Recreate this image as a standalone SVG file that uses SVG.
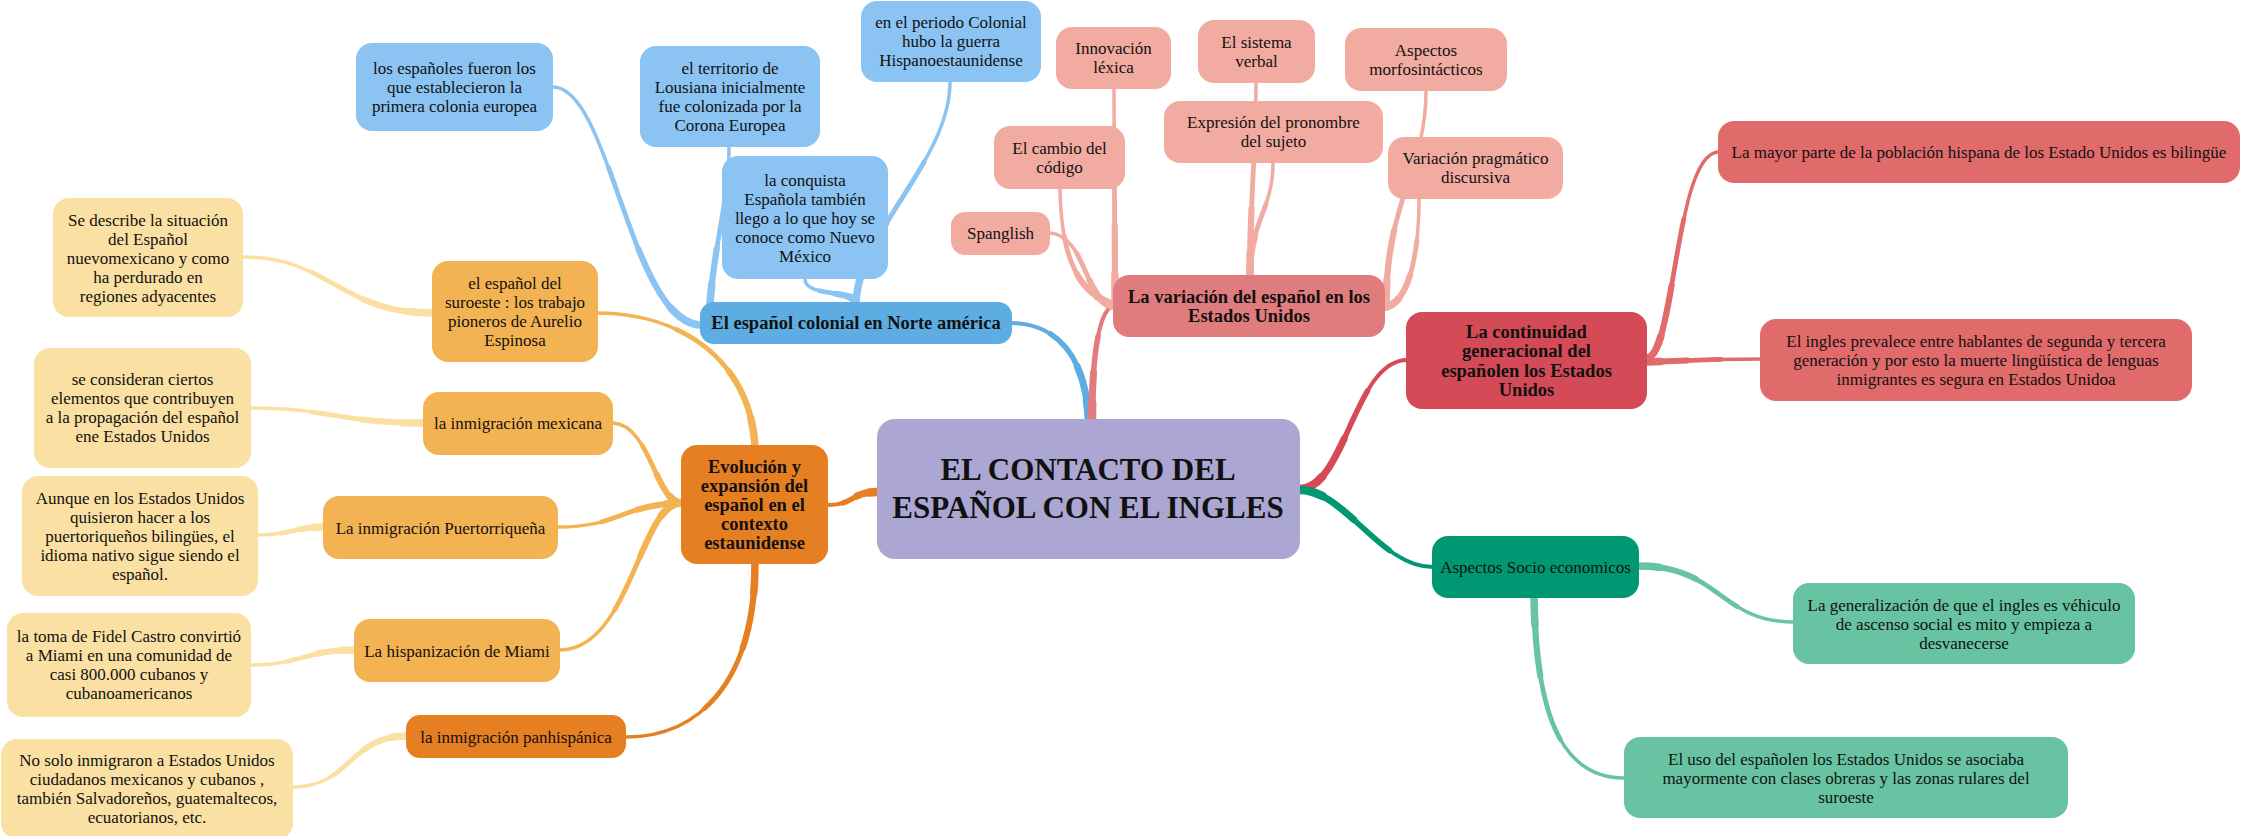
<svg xmlns="http://www.w3.org/2000/svg" xmlns:xlink="http://www.w3.org/1999/xlink" width="2242" height="836" viewBox="0 0 2242 836">
<style>
text{font-family:"Liberation Serif","Times New Roman",serif;font-size:17px;fill:#111;text-anchor:middle}
.b{font-weight:bold;font-size:18.5px}
.t{font-weight:bold;font-size:31px}
#connectors path{fill:none;stroke-linecap:round}
#connectors use{fill:none;stroke-linecap:round}
.m0{stroke-width:4}
.m1{stroke-width:5.5;stroke-dasharray:70 200}
.m2{stroke-width:7;stroke-dasharray:40 200}
.m3{stroke-width:8.5;stroke-dasharray:15 200}
.k0{stroke-width:3.5}
.k1{stroke-width:4.8;stroke-dasharray:65 200}
.k2{stroke-width:6.2;stroke-dasharray:35 200}
.k3{stroke-width:7.5;stroke-dasharray:12 200}
</style>
<defs>
<path id="c1" pathLength="100" d="M1089,422 C1086,360 1060,323 1010,323"/>
<path id="c2" pathLength="100" d="M1092,422 C1092,360 1098,310 1114,305"/>
<path id="c3" pathLength="100" d="M1300,489 C1345,488 1355,360 1407,360"/>
<path id="c4" pathLength="100" d="M1300,490 C1345,490 1380,567 1433,567"/>
<path id="c5" pathLength="100" d="M877,492 C850,492 855,505 828,505"/>
<path id="d1" pathLength="100" d="M700,325 C630,320 610,87 553,87"/>
<path id="d2" pathLength="100" d="M710,303 C715,240 729,200 729,147"/>
<path id="d3" pathLength="100" d="M854,302 C854,290 805,297 805,279"/>
<path id="d4" pathLength="100" d="M856,302 C860,230 950,160 950,82"/>
<path id="e1" pathLength="100" d="M1115,300 C1115,200 1114,150 1114,89"/>
<path id="e2" pathLength="100" d="M1112,306 C1085,300 1085,235 1050,233"/>
<path id="e3" pathLength="100" d="M1112,304 C1070,290 1061,240 1060,189"/>
<path id="e4" pathLength="100" d="M1250,276 C1250,200 1256,150 1256,83"/>
<path id="e5" pathLength="100" d="M1250,276 C1250,220 1273,210 1273,163"/>
<path id="e6" pathLength="100" d="M1386,307 C1386,200 1426,170 1426,91"/>
<path id="e7" pathLength="100" d="M1387,307 C1410,300 1419,250 1419,199"/>
<path id="f1" pathLength="100" d="M1647,358 C1675,355 1675,155 1718,152"/>
<path id="f2" pathLength="100" d="M1647,362 C1700,360 1720,359 1761,359"/>
<path id="h1" pathLength="100" d="M1639,566 C1720,566 1720,622 1793,622"/>
<path id="h2" pathLength="100" d="M1534,598 C1536,700 1555,778 1624,778"/>
<path id="j1" pathLength="100" d="M755,446 C750,360 680,313 598,313"/>
<path id="j2" pathLength="100" d="M681,503 C655,500 650,425 613,423"/>
<path id="j3" pathLength="100" d="M681,503 C620,505 620,527 558,527"/>
<path id="j4" pathLength="100" d="M681,503 C640,503 630,650 560,650"/>
<path id="j5" pathLength="100" d="M755,564 C755,680 700,737 626,737"/>
<path id="g1" pathLength="100" d="M432,313 C340,313 330,257 243,257"/>
<path id="g2" pathLength="100" d="M423,423 C340,423 330,408 251,408"/>
<path id="g3" pathLength="100" d="M323,527 C295,527 290,535 258,535"/>
<path id="g4" pathLength="100" d="M354,650 C305,650 300,665 251,665"/>
<path id="g5" pathLength="100" d="M406,736 C350,736 350,787 293,787"/>
</defs>
<rect width="2242" height="836" fill="#ffffff"/>
<g id="connectors">
<g stroke="#5dade2"><use xlink:href="#c1" class="m0"/><use xlink:href="#c1" class="m1"/><use xlink:href="#c1" class="m2"/><use xlink:href="#c1" class="m3"/></g>
<g stroke="#e07c7e"><use xlink:href="#c2" class="m0"/><use xlink:href="#c2" class="m1"/><use xlink:href="#c2" class="m2"/><use xlink:href="#c2" class="m3"/></g>
<g stroke="#d44a56"><use xlink:href="#c3" class="m0"/><use xlink:href="#c3" class="m1"/><use xlink:href="#c3" class="m2"/><use xlink:href="#c3" class="m3"/></g>
<g stroke="#009873"><use xlink:href="#c4" class="m0"/><use xlink:href="#c4" class="m1"/><use xlink:href="#c4" class="m2"/><use xlink:href="#c4" class="m3"/></g>
<g stroke="#e67e22"><use xlink:href="#c5" class="m0"/><use xlink:href="#c5" class="m1"/><use xlink:href="#c5" class="m2"/><use xlink:href="#c5" class="m3"/></g>
<g stroke="#8bc3f3">
<use xlink:href="#d1" class="k0"/><use xlink:href="#d1" class="k1"/><use xlink:href="#d1" class="k2"/><use xlink:href="#d1" class="k3"/>
<use xlink:href="#d2" class="k0"/><use xlink:href="#d2" class="k1"/><use xlink:href="#d2" class="k2"/><use xlink:href="#d2" class="k3"/>
<use xlink:href="#d3" class="k0"/><use xlink:href="#d3" class="k1"/><use xlink:href="#d3" class="k2"/><use xlink:href="#d3" class="k3"/>
<use xlink:href="#d4" class="k0"/><use xlink:href="#d4" class="k1"/><use xlink:href="#d4" class="k2"/><use xlink:href="#d4" class="k3"/>
</g>
<g stroke="#f1aba1">
<use xlink:href="#e1" class="k0"/><use xlink:href="#e1" class="k1"/><use xlink:href="#e1" class="k2"/><use xlink:href="#e1" class="k3"/>
<use xlink:href="#e2" class="k0"/><use xlink:href="#e2" class="k1"/><use xlink:href="#e2" class="k2"/><use xlink:href="#e2" class="k3"/>
<use xlink:href="#e3" class="k0"/><use xlink:href="#e3" class="k1"/><use xlink:href="#e3" class="k2"/><use xlink:href="#e3" class="k3"/>
<use xlink:href="#e4" class="k0"/><use xlink:href="#e4" class="k1"/><use xlink:href="#e4" class="k2"/><use xlink:href="#e4" class="k3"/>
<use xlink:href="#e5" class="k0"/><use xlink:href="#e5" class="k1"/><use xlink:href="#e5" class="k2"/><use xlink:href="#e5" class="k3"/>
<use xlink:href="#e6" class="k0"/><use xlink:href="#e6" class="k1"/><use xlink:href="#e6" class="k2"/><use xlink:href="#e6" class="k3"/>
<use xlink:href="#e7" class="k0"/><use xlink:href="#e7" class="k1"/><use xlink:href="#e7" class="k2"/><use xlink:href="#e7" class="k3"/>
</g>
<g stroke="#e16a6a">
<use xlink:href="#f1" class="k0"/><use xlink:href="#f1" class="k1"/><use xlink:href="#f1" class="k2"/><use xlink:href="#f1" class="k3"/>
<use xlink:href="#f2" class="k0"/><use xlink:href="#f2" class="k1"/><use xlink:href="#f2" class="k2"/><use xlink:href="#f2" class="k3"/>
</g>
<g stroke="#68c3a2">
<use xlink:href="#h1" class="k0"/><use xlink:href="#h1" class="k1"/><use xlink:href="#h1" class="k2"/><use xlink:href="#h1" class="k3"/>
<use xlink:href="#h2" class="k0"/><use xlink:href="#h2" class="k1"/><use xlink:href="#h2" class="k2"/><use xlink:href="#h2" class="k3"/>
</g>
<g stroke="#f3b352">
<use xlink:href="#j1" class="k0"/><use xlink:href="#j1" class="k1"/><use xlink:href="#j1" class="k2"/><use xlink:href="#j1" class="k3"/>
<use xlink:href="#j2" class="k0"/><use xlink:href="#j2" class="k1"/><use xlink:href="#j2" class="k2"/><use xlink:href="#j2" class="k3"/>
<use xlink:href="#j3" class="k0"/><use xlink:href="#j3" class="k1"/><use xlink:href="#j3" class="k2"/><use xlink:href="#j3" class="k3"/>
<use xlink:href="#j4" class="k0"/><use xlink:href="#j4" class="k1"/><use xlink:href="#j4" class="k2"/><use xlink:href="#j4" class="k3"/>
</g>
<g stroke="#e67e22">
<use xlink:href="#j5" class="k0"/><use xlink:href="#j5" class="k1"/><use xlink:href="#j5" class="k2"/><use xlink:href="#j5" class="k3"/>
</g>
<g stroke="#fbe0a3">
<use xlink:href="#g1" class="k0"/><use xlink:href="#g1" class="k1"/><use xlink:href="#g1" class="k2"/><use xlink:href="#g1" class="k3"/>
<use xlink:href="#g2" class="k0"/><use xlink:href="#g2" class="k1"/><use xlink:href="#g2" class="k2"/><use xlink:href="#g2" class="k3"/>
<use xlink:href="#g3" class="k0"/><use xlink:href="#g3" class="k1"/><use xlink:href="#g3" class="k2"/><use xlink:href="#g3" class="k3"/>
<use xlink:href="#g4" class="k0"/><use xlink:href="#g4" class="k1"/><use xlink:href="#g4" class="k2"/><use xlink:href="#g4" class="k3"/>
<use xlink:href="#g5" class="k0"/><use xlink:href="#g5" class="k1"/><use xlink:href="#g5" class="k2"/><use xlink:href="#g5" class="k3"/>
</g>
</g>

<g id="central"><rect x="877" y="419" width="423" height="140" rx="18" fill="#aba7d2"/>
<text class="t"><tspan x="1088" y="480">EL CONTACTO DEL</tspan><tspan x="1088" y="518">ESPAÑOL CON EL INGLES</tspan></text></g>

<g id="colonial"><rect x="700" y="302" width="312" height="42" rx="14" fill="#5dade2"/>
<text class="b"><tspan x="856" y="329">El español colonial en Norte américa</tspan></text></g>

<g id="espanoles"><rect x="356" y="43" width="197" height="88" rx="16" fill="#8bc3f3"/>
<text><tspan x="454.5" y="73.5">los españoles fueron los</tspan><tspan x="454.5" y="92.5">que establecieron la</tspan><tspan x="454.5" y="111.5">primera colonia europea</tspan></text></g>

<g id="territorio"><rect x="640" y="46" width="180" height="101" rx="16" fill="#8bc3f3"/>
<text><tspan x="730" y="73.5">el territorio de</tspan><tspan x="730" y="92.5">Lousiana inicialmente</tspan><tspan x="730" y="111.5">fue colonizada por la</tspan><tspan x="730" y="130.5">Corona Europea</tspan></text></g>

<g id="periodo"><rect x="861" y="1" width="180" height="81" rx="16" fill="#8bc3f3"/>
<text><tspan x="951" y="27.5">en el periodo Colonial</tspan><tspan x="951" y="46.5">hubo la guerra</tspan><tspan x="951" y="65.5">Hispanoestaunidense</tspan></text></g>

<g id="conquista"><rect x="722" y="156" width="166" height="123" rx="16" fill="#8bc3f3"/>
<text><tspan x="805" y="185.5">la conquista</tspan><tspan x="805" y="204.5">Española también</tspan><tspan x="805" y="223.5">llego a lo que hoy se</tspan><tspan x="805" y="242.5">conoce como Nuevo</tspan><tspan x="805" y="261.5">México</tspan></text></g>

<g id="variacion"><rect x="1113" y="275" width="272" height="62" rx="16" fill="#e07c7e"/>
<text class="b"><tspan x="1249" y="303">La variación del español en los</tspan><tspan x="1249" y="322">Estados Unidos</tspan></text></g>

<g id="innovacion"><rect x="1056" y="27" width="115" height="62" rx="16" fill="#f1aba1"/>
<text><tspan x="1113.5" y="54">Innovación</tspan><tspan x="1113.5" y="73">léxica</tspan></text></g>

<g id="sistema"><rect x="1198" y="20" width="117" height="63" rx="16" fill="#f1aba1"/>
<text><tspan x="1256.5" y="47.5">El sistema</tspan><tspan x="1256.5" y="66.5">verbal</tspan></text></g>

<g id="morfo"><rect x="1345" y="28" width="162" height="63" rx="16" fill="#f1aba1"/>
<text><tspan x="1426" y="55.5">Aspectos</tspan><tspan x="1426" y="74.5">morfosintácticos</tspan></text></g>

<g id="expresion"><rect x="1164" y="101" width="219" height="62" rx="16" fill="#f1aba1"/>
<text><tspan x="1273.5" y="128">Expresión del pronombre</tspan><tspan x="1273.5" y="147">del sujeto</tspan></text></g>

<g id="cambio"><rect x="994" y="126" width="131" height="63" rx="16" fill="#f1aba1"/>
<text><tspan x="1059.5" y="153.5">El cambio del</tspan><tspan x="1059.5" y="172.5">código</tspan></text></g>

<g id="spanglish"><rect x="951" y="212" width="99" height="43" rx="14" fill="#f1aba1"/>
<text><tspan x="1000.5" y="239">Spanglish</tspan></text></g>

<g id="pragmatico"><rect x="1388" y="137" width="175" height="62" rx="16" fill="#f1aba1"/>
<text><tspan x="1475.5" y="164">Variación pragmático</tspan><tspan x="1475.5" y="183">discursiva</tspan></text></g>

<g id="continuidad"><rect x="1406" y="312" width="241" height="97" rx="16" fill="#d44a56"/>
<text class="b"><tspan x="1526.5" y="338">La continuidad</tspan><tspan x="1526.5" y="357">generacional del</tspan><tspan x="1526.5" y="376.5">españolen los Estados</tspan><tspan x="1526.5" y="395.5">Unidos</tspan></text></g>

<g id="bilingue"><rect x="1718" y="121" width="522" height="62" rx="16" fill="#e16a6a"/>
<text><tspan x="1979" y="157.5">La mayor parte de la población hispana de los Estado Unidos es bilingüe</tspan></text></g>

<g id="prevalece"><rect x="1760" y="319" width="432" height="82" rx="16" fill="#e16a6a"/>
<text><tspan x="1976" y="346.5">El ingles prevalece entre hablantes de segunda y tercera</tspan><tspan x="1976" y="365.5">generación y por esto la muerte lingüística de lenguas</tspan><tspan x="1976" y="384.5">inmigrantes es segura en Estados Unidoa</tspan></text></g>

<g id="socio"><rect x="1432" y="536" width="207" height="62" rx="16" fill="#009873"/>
<text><tspan x="1535.5" y="573">Aspectos Socio economicos</tspan></text></g>

<g id="generalizacion"><rect x="1793" y="583" width="342" height="81" rx="16" fill="#68c3a2"/>
<text><tspan x="1964" y="610.5">La generalización de que el ingles es véhiculo</tspan><tspan x="1964" y="629.5">de ascenso social es mito y empieza a</tspan><tspan x="1964" y="648.5">desvanecerse</tspan></text></g>

<g id="uso"><rect x="1624" y="737" width="444" height="81" rx="16" fill="#68c3a2"/>
<text><tspan x="1846" y="764.5">El uso del españolen los Estados Unidos se asociaba</tspan><tspan x="1846" y="783.5">mayormente con clases obreras y las zonas rulares del</tspan><tspan x="1846" y="802.5">suroeste</tspan></text></g>

<g id="evolucion"><rect x="681" y="445" width="147" height="119" rx="16" fill="#e67e22"/>
<text class="b"><tspan x="754.5" y="472.5">Evolución y</tspan><tspan x="754.5" y="491.5">expansión del</tspan><tspan x="754.5" y="511">español en el</tspan><tspan x="754.5" y="530">contexto</tspan><tspan x="754.5" y="549">estaunidense</tspan></text></g>

<g id="suroeste"><rect x="432" y="261" width="166" height="101" rx="16" fill="#f3b352"/>
<text><tspan x="515" y="288.5">el español del</tspan><tspan x="515" y="307.5">suroeste : los trabajo</tspan><tspan x="515" y="326.5">pioneros de Aurelio</tspan><tspan x="515" y="345.5">Espinosa</tspan></text></g>

<g id="describe"><rect x="53" y="198" width="190" height="119" rx="16" fill="#fbe0a3"/>
<text><tspan x="148" y="225.5">Se describe la situación</tspan><tspan x="148" y="244.5">del Español</tspan><tspan x="148" y="263.5">nuevomexicano y como</tspan><tspan x="148" y="282.5">ha perdurado en</tspan><tspan x="148" y="301.5">regiones adyacentes</tspan></text></g>

<g id="mexicana"><rect x="423" y="392" width="190" height="63" rx="16" fill="#f3b352"/>
<text><tspan x="518" y="429">la inmigración mexicana</tspan></text></g>

<g id="consideran"><rect x="34" y="348" width="217" height="120" rx="16" fill="#fbe0a3"/>
<text><tspan x="142.5" y="385">se consideran ciertos</tspan><tspan x="142.5" y="404">elementos que contribuyen</tspan><tspan x="142.5" y="423">a la propagación del español</tspan><tspan x="142.5" y="442">ene Estados Unidos</tspan></text></g>

<g id="puertorriquena"><rect x="323" y="496" width="235" height="63" rx="16" fill="#f3b352"/>
<text><tspan x="440.5" y="533.5">La inmigración Puertorriqueña</tspan></text></g>

<g id="aunque"><rect x="22" y="476" width="236" height="120" rx="16" fill="#fbe0a3"/>
<text><tspan x="140" y="503.5">Aunque en los Estados Unidos</tspan><tspan x="140" y="522.5">quisieron hacer a los</tspan><tspan x="140" y="541.5">puertoriqueños bilingües, el</tspan><tspan x="140" y="560.5">idioma nativo sigue siendo el</tspan><tspan x="140" y="579.5">español.</tspan></text></g>

<g id="miami"><rect x="354" y="619" width="206" height="63" rx="16" fill="#f3b352"/>
<text><tspan x="457" y="656.5">La hispanización de Miami</tspan></text></g>

<g id="toma"><rect x="7" y="613" width="244" height="104" rx="16" fill="#fbe0a3"/>
<text><tspan x="129" y="642">la toma de Fidel Castro convirtió</tspan><tspan x="129" y="661">a Miami en una comunidad de</tspan><tspan x="129" y="680">casi 800.000 cubanos y</tspan><tspan x="129" y="699">cubanoamericanos</tspan></text></g>

<g id="panhispanica"><rect x="406" y="715" width="220" height="43" rx="14" fill="#e67e22"/>
<text><tspan x="516" y="742.5">la inmigración panhispánica</tspan></text></g>

<g id="nosolo"><rect x="1" y="739" width="292" height="100" rx="16" fill="#fbe0a3"/>
<text><tspan x="147" y="766">No solo inmigraron a Estados Unidos</tspan><tspan x="147" y="785">ciudadanos mexicanos y cubanos ,</tspan><tspan x="147" y="804">también Salvadoreños, guatemaltecos,</tspan><tspan x="147" y="823">ecuatorianos, etc.</tspan></text></g>
</svg>
